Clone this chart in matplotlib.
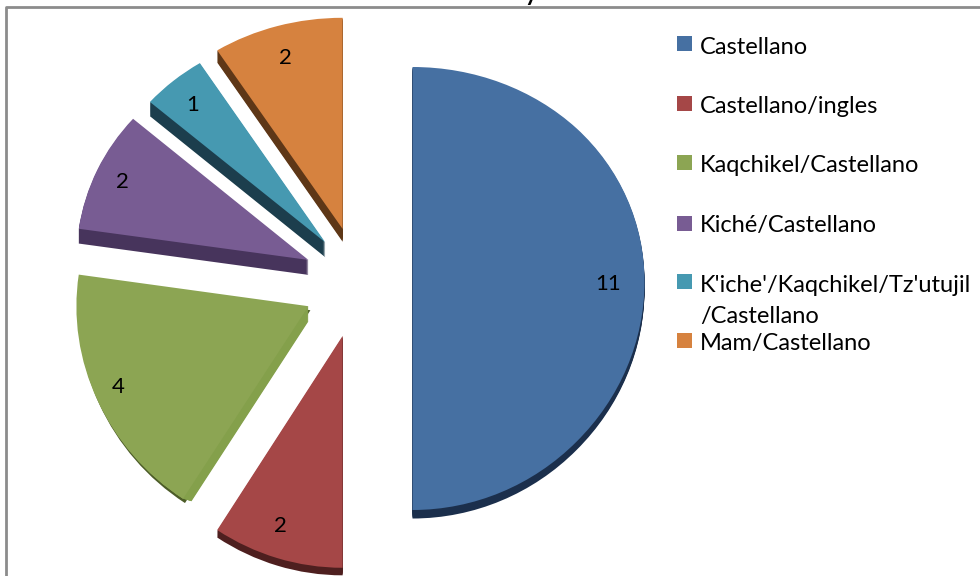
import numpy as np
import matplotlib
matplotlib.use('Agg')
import matplotlib.pyplot as plt
from matplotlib.lines import Line2D
from matplotlib.patches import Wedge, Rectangle

W, H = 980, 576

labels = ['Castellano', 'Castellano/ingles', 'Kaqchikel/Castellano', 'Kiché/Castellano',
          "K'iche'/Kaqchikel/Tz'utujil\n/Castellano", 'Mam/Castellano']
values = [11, 2, 4, 2, 1, 2]
colors = ['#4670A2', '#A54747', '#8CA553', '#785C93', '#4699B1', '#D6823F']
side_colors = ['#1B2F4C', '#4E1F1F', '#84A04B', '#47345C', '#1C3E4D', '#5E3717']
depths = [8, 7, 15, 15, 15, 13]

# pixel placement
CX, R = 358, 232
EXPLODE = 0.235
nudges = [(0, 0), (0, -4), (0, -3), (0, 0), (3, 0), (0, 3)]  # px, up is positive
value_pos = [(608, 284), (280, 526), (118, 387), (122, 182), (193, 105), (285, 58)]
legend_box_y = [36, 96, 155, 216, 274, 333]
legend_base = [54, 113, 172, 232, 292, 350]


# the pie is seen slightly tilted: the lower half looks a bit bigger
def fwd(y):
    return 221.5 * y - 7 * y**2


def inv(v):
    return (221.5 - np.sqrt(np.maximum(221.5**2 - 28 * v, 0))) / 14


fig = plt.figure(figsize=(W / 100, H / 100), dpi=100)
ax = fig.add_axes([0, 0, 1, 1])

wedges, _ = ax.pie(values, colors=colors, startangle=90, counterclock=False,
                   explode=[EXPLODE] * len(values), radius=1,
                   wedgeprops={'linewidth': 0, 'zorder': 5})
ax.set_aspect('auto')
ax.set_yscale('function', functions=(fwd, inv))
ax.set_xlim(-CX / R, (W - CX) / R)
ax.set_ylim(inv(281.5 - H), inv(281.5))
ax.axis('off')

for w, (nx, ny) in zip(wedges, nudges):
    w.set_center((w.center[0] + nx / R, w.center[1] + ny / 221.5))

# side of each slice: copies of the wedge stacked downwards
for i, (w, side, depth) in enumerate(zip(wedges, side_colors, depths)):
    for k in range(1, depth + 1):
        dy = k / 221.5
        # the green slice only shows its side along the cut edge, not along the rim
        r = w.r - dy if i == 2 else w.r
        ax.add_patch(Wedge((w.center[0], w.center[1] - dy), r, w.theta1, w.theta2,
                           facecolor=side, linewidth=0, zorder=2))

# dark rim under the green slice, only towards its lower end
g = wedges[2]
ax.add_patch(Wedge((g.center[0] + 2 / R, g.center[1] - 4 / 221.5), g.r, g.theta1, g.theta2,
                   facecolor='#4C5C28', linewidth=0, zorder=1))

# frame runs off the right and bottom of the picture
fig.add_artist(Line2D([6 / W, 6 / W, 1], [0, 1 - 7 / H, 1 - 7 / H], transform=fig.transFigure,
                      color='#8C8C8C', linewidth=2))

font = ['Lato', 'DejaVu Sans']
# only the tail of the title's y is left at the top edge
fig.text(531 / W, 1 - 1 / H, 'y', ha='center', va='baseline', fontsize=17, fontweight='bold',
         family=font, color='black')

for v, (x, y) in zip(values, value_pos):
    fig.text(x / W, 1 - y / H, str(v), ha='center', va='center', fontsize=16, family=font, color='black')

for name, c, by, base in zip(labels, colors, legend_box_y, legend_base):
    fig.add_artist(Rectangle((677 / W, 1 - (by + 15) / H), 15 / W, 15 / H, transform=fig.transFigure,
                             facecolor=c, linewidth=0))
    for j, line in enumerate(name.split('\n')):
        fig.text(700 / W, 1 - (base + 31 * j) / H, line, ha='left', va='baseline', fontsize=17,
                 family=font, color='black')

fig.savefig('out.png', dpi=100)
